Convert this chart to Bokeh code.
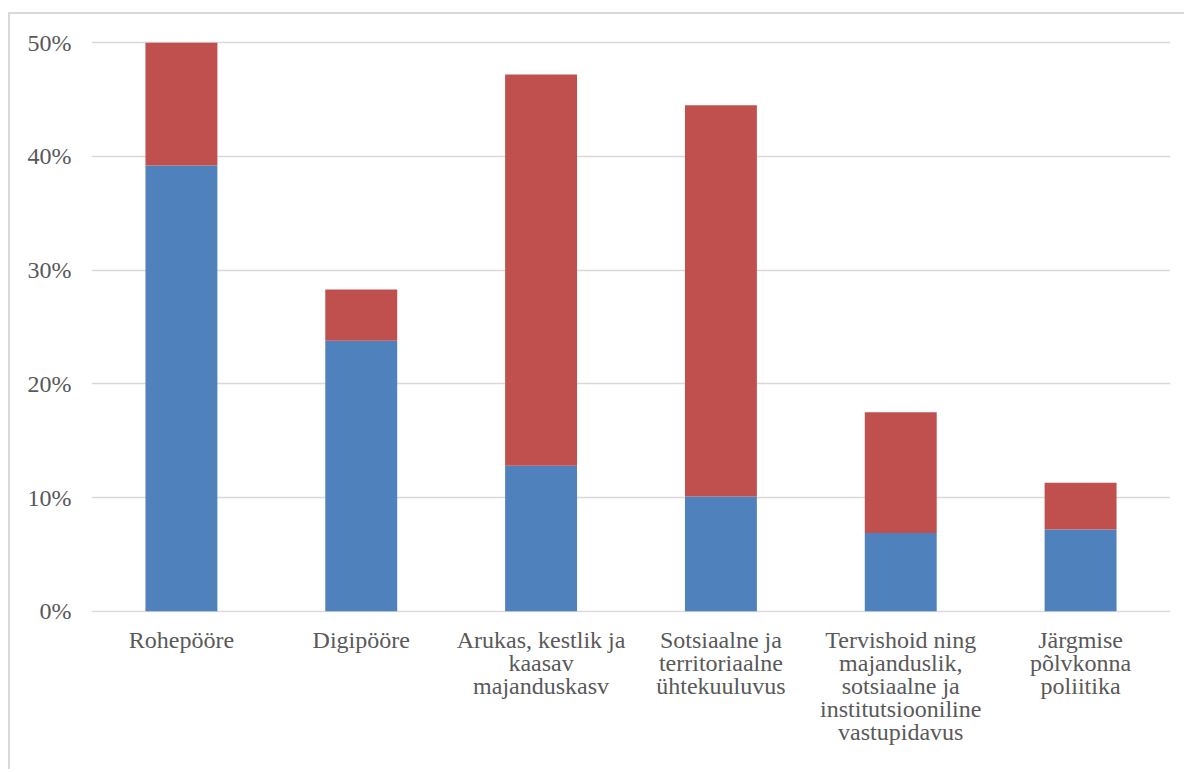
from bokeh.plotting import figure
from bokeh.models import Range1d, FactorRange, FixedTicker, NumeralTickFormatter, ColumnDataSource
from bokeh.embed import file_html
from bokeh.resources import INLINE

categories = ["Rohepööre", "Digipööre", "Arukas, kestlik ja\nkaasav\nmajanduskasv",
              "Sotsiaalne ja\nterritoriaalne\nühtekuuluvus",
              "Tervishoid ning\nmajanduslik,\nsotsiaalne ja\ninstitutsiooniline\nvastupidavus",
              "Järgmise\npõlvkonna\npoliitika"]
blue_values = [0.392, 0.238, 0.128, 0.101, 0.069, 0.072]
red_values = [0.108, 0.045, 0.344, 0.344, 0.106, 0.041]
y_ticks = [0, 0.1, 0.2, 0.3, 0.4, 0.5]

src = ColumnDataSource(dict(cat=categories, blue=blue_values, red=red_values))

p = figure(x_range=FactorRange(*categories, range_padding=0), y_range=Range1d(-0.001, 0.502),
           width=1176, height=757, output_backend="svg", toolbar_location=None,
           min_border_left=81, min_border_right=16, min_border_top=26, min_border_bottom=159)
p.styles = {"margin-left": "8px", "margin-top": "12px",
            "border-top": "2px solid #d9d9d9", "border-left": "2px solid #d9d9d9"}

p.vbar_stack(["blue", "red"], x="cat", width=0.4, source=src,
             color=["#4F81BD", "#C0504D"], line_color=None)

p.outline_line_color = None
p.xgrid.grid_line_color = None
p.ygrid.grid_line_color = "#d9d9d9"
p.ygrid.grid_line_width = 1.5
p.yaxis.ticker = FixedTicker(ticks=y_ticks)
p.yaxis.formatter = NumeralTickFormatter(format="0%")

p.xaxis.axis_line_color = None
p.xaxis.major_tick_line_color = None
p.xaxis.minor_tick_line_color = None
p.xaxis.major_label_text_font = "Liberation Serif"
p.xaxis.major_label_text_font_size = "24px"
p.xaxis.major_label_text_color = "#595959"
p.yaxis.axis_line_color = None
p.yaxis.major_tick_line_color = None
p.yaxis.minor_tick_line_color = None
p.yaxis.major_label_text_font = "Liberation Serif"
p.yaxis.major_label_text_font_size = "24px"
p.yaxis.major_label_text_color = "#595959"

p.yaxis.major_label_standoff = 14
p.xaxis.major_label_standoff = 8
p.xaxis.major_label_text_line_height = 0.89
p.xaxis.major_label_orientation = "horizontal"

open("out.html", "w").write(file_html(p, INLINE))
